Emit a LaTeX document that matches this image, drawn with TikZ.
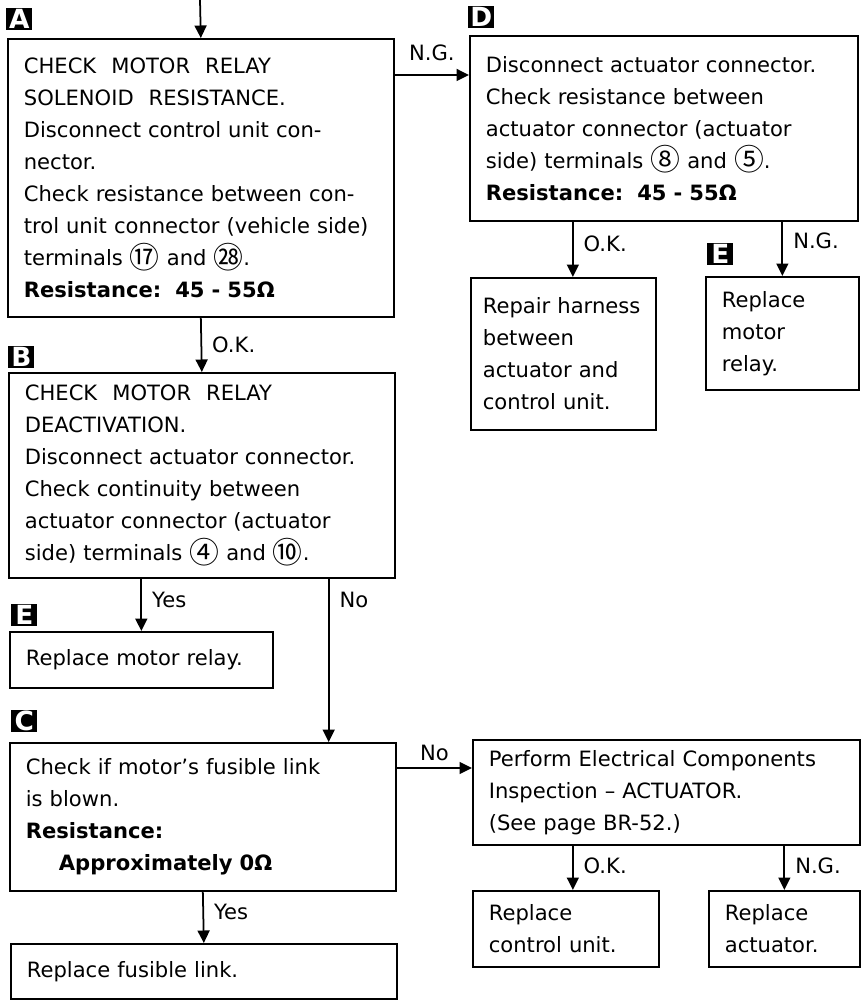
\documentclass[tikz,border=0pt]{standalone}
\usepackage{fontspec}
\setmainfont{DejaVu Sans}
\newfontfamily\cjk{Noto Sans CJK JP}
\usetikzlibrary{arrows.meta}
\newcommand{\cn}[1]{{\cjk\fontsize{17}{17}\selectfont\raisebox{-1.5pt}{#1}}}
\newcommand{\wsp}{\hspace*{0.3cm}}
\begin{document}
\begin{tikzpicture}[x=0.02cm, y=-0.02cm,
    every node/.style={font=\fontsize{12}{18.2}\selectfont},
    box/.style={rectangle, draw=black, line width=1pt, anchor=north west, align=left, inner xsep=0.32cm, inner ysep=0pt},
    tag/.style={rectangle, fill=black, text=white, anchor=north west, inner sep=0pt, minimum width=0.52cm, minimum height=0.44cm, font=\fontsize{15}{15}\selectfont\bfseries},
    arr/.style={-{Triangle[length=0.25cm, width=0.24cm]}, line width=1pt},
    lbl/.style={inner xsep=0.2cm}
]
\useasboundingbox (0,0) rectangle (864,1000);

% left column
\node[tag] (tA) at (6,8) {A};
\node[box, text width=7.08cm, minimum height=5.56cm] (A) at (7,38)
    {CHECK\wsp MOTOR\wsp RELAY\\
     SOLENOID\wsp RESISTANCE.\\
     Disconnect control unit con-\\
     nector.\\
     Check resistance between con-\\
     trol unit connector (vehicle side)\\
     terminals \cn{⑰} and \cn{㉘}.\\
     \textbf{Resistance:\ \ 45 - 55Ω}};
\node[tag] (tB) at (8,346) {B};
\node[box, text width=7.08cm, minimum height=4.1cm] (B) at (8,372)
    {CHECK\wsp MOTOR\wsp RELAY\\
     DEACTIVATION.\\
     Disconnect actuator connector.\\
     Check continuity between\\
     actuator connector (actuator\\
     side) terminals \cn{④} and \cn{⑩}.};
\node[tag] (tE1) at (11,604) {E};
\node[box, text width=4.62cm, minimum height=1.12cm] (E1) at (9,631) {Replace motor relay.};
\node[tag] (tC) at (11,710) {C};
\node[box, text width=7.08cm, minimum height=2.96cm] (C) at (9,742)
    {Check if motor’s fusible link\\
     is blown.\\
     \textbf{Resistance:}\\
     \hspace*{0.66cm}\textbf{Approximately 0Ω}};
\node[box, text width=7.08cm, minimum height=1.1cm] (F) at (10,943) {Replace fusible link.};

% right column
\node[tag] (tD) at (468,6) {D};
\node[box, text width=7.12cm, minimum height=3.7cm] (D) at (469,35)
    {Disconnect actuator connector.\\
     Check resistance between\\
     actuator connector (actuator\\
     side) terminals \cn{⑧} and \cn{⑤}.\\
     \textbf{Resistance:\ \ 45 - 55Ω}};
\node[box, text width=3.22cm, inner xsep=0.24cm, minimum height=3.04cm] (Rp) at (470,277)
    {Repair harness\\ between\\ actuator and\\ control unit.};
\node[tag] (tE2) at (707,243) {E};
\node[box, text width=2.42cm, minimum height=2.26cm] (E2) at (705,276)
    {Replace\\ motor\\ relay.};
\node[box, text width=7.1cm, minimum height=2.1cm] (P) at (472,739)
    {Perform Electrical Components\\
     Inspection -- ACTUATOR.\\
     (See page BR-52.)};
\node[box, text width=3.08cm, minimum height=1.52cm] (RC) at (472,890)
    {Replace\\ control unit.};
\node[box, text width=2.38cm, minimum height=1.52cm] (RA) at (708,890)
    {Replace\\ actuator.};

% connectors
\coordinate (top) at (200,0);
\coordinate (ngA) at ([yshift=-0.74cm]A.north east);
\coordinate (rpin) at ([xshift=0.19cm]Rp.north);
\coordinate (cin) at ([xshift=-1.36cm]C.north east);
\coordinate (noC) at ([yshift=-0.52cm]C.north east);
\coordinate (rcin) at ([xshift=0.14cm]RC.north);

\draw[arr] (top) -- (A.north);
\draw[arr] (ngA) -- node[above=4pt] {N.G.} (ngA -| D.west);
\draw[arr] (A.south) -- node[right, lbl] {O.K.} (B.north);
\draw[arr] (D.south -| rpin) -- node[right, lbl, pos=0.4] {O.K.} (rpin);
\draw[arr] (D.south -| E2.north) -- node[right, lbl, pos=0.35] {N.G.} (E2.north);
\draw[arr] (B.south -| E1.north) -- node[right, lbl, pos=0.4] {Yes} (E1.north);
\draw[arr] (B.south -| cin) -- node[right, lbl, pos=0.13] {No} (cin);
\draw[arr] (noC) -- node[above] {No} (noC -| P.west);
\draw[arr] (C.south) -- node[right, lbl, pos=0.4] {Yes} (F.north);
\draw[arr] (P.south -| rcin) -- node[right, lbl, pos=0.45] {O.K.} (rcin);
\draw[arr] (P.south -| RA.north) -- node[right, lbl, pos=0.45] {N.G.} (RA.north);
\end{tikzpicture}
\end{document}
